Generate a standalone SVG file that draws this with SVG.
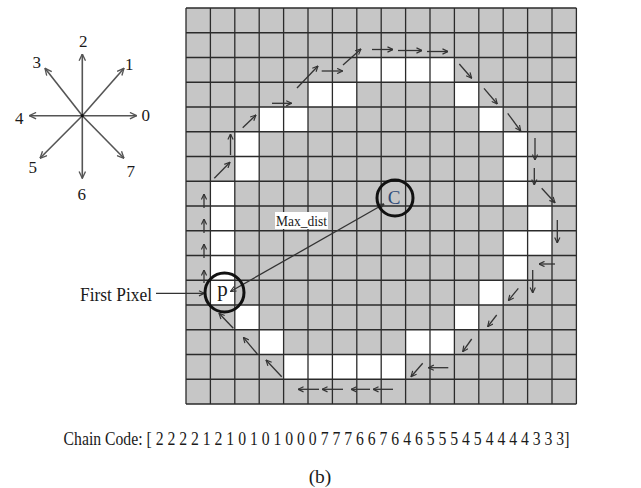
<svg xmlns="http://www.w3.org/2000/svg" width="641" height="488" viewBox="0 0 641 488">
<style>
.t{font-family:"Liberation Serif","Times New Roman",serif;fill:#1a1a1a}
.gl{stroke:#2b2b2b;stroke-width:1.3;fill:none}
.ar{stroke:#333;stroke-width:1.3;fill:none;marker-end:url(#ah)}
.cp{stroke:#555;stroke-width:1.6;fill:none;marker-end:url(#ch)}
.w{fill:#fff}
.ring{fill:none;stroke:#111;stroke-width:3}
</style>
<defs>
<marker id="ah" viewBox="0 0 10 10" refX="9.5" refY="5" markerWidth="6.5" markerHeight="6.5" markerUnits="userSpaceOnUse" orient="auto"><path d="M1,1 L9.5,5 L1,9" fill="none" stroke="#333" stroke-width="1.8"/></marker>
<marker id="as" viewBox="0 0 10 10" refX="0.5" refY="5" markerWidth="6.5" markerHeight="6.5" markerUnits="userSpaceOnUse" orient="auto"><path d="M9,1 L0.5,5 L9,9" fill="none" stroke="#333" stroke-width="1.8"/></marker>
<marker id="ch" viewBox="0 0 10 10" refX="9.5" refY="5" markerWidth="8" markerHeight="8" markerUnits="userSpaceOnUse" orient="auto"><path d="M1,1 L9.5,5 L1,9" fill="none" stroke="#555" stroke-width="1.7"/></marker>
</defs>
<rect width="641" height="488" fill="#fff"/>

<g id="compass">
<line class="cp" x1="82.3" y1="115.7" x2="82.3" y2="54"/>
<line class="cp" x1="82.3" y1="115.7" x2="82.3" y2="178.3"/>
<line class="cp" x1="82.3" y1="115.7" x2="136.7" y2="115.7"/>
<line class="cp" x1="82.3" y1="115.7" x2="29.3" y2="115.7"/>
<line class="cp" x1="82.3" y1="115.7" x2="124" y2="68.3"/>
<line class="cp" x1="82.3" y1="115.7" x2="45" y2="68.3"/>
<line class="cp" x1="82.3" y1="115.7" x2="40" y2="158.3"/>
<line class="cp" x1="82.3" y1="115.7" x2="124" y2="158.3"/>
<circle cx="82.3" cy="115.7" r="1.6" fill="#111"/>
<g class="t" font-size="17" text-anchor="middle">
<text x="83.3" y="46.7">2</text>
<text x="129.3" y="70">1</text>
<text x="36.7" y="68">3</text>
<text x="145.7" y="120.7">0</text>
<text x="19.3" y="124">4</text>
<text x="32.7" y="173">5</text>
<text x="130.7" y="176.5">7</text>
<text x="81.7" y="200">6</text>
</g>
</g>

<g id="grid">
<rect x="186" y="8" width="390.4" height="396" fill="#c6c6c6"/>
<g class="w">
<rect x="356.8" y="57.5" width="97.6" height="24.75"/>
<rect x="308" y="82.25" width="48.8" height="24.75"/>
<rect x="454.4" y="82.25" width="24.4" height="24.75"/>
<rect x="259.2" y="107" width="48.8" height="24.75"/>
<rect x="478.8" y="107" width="24.4" height="24.75"/>
<rect x="234.8" y="131.75" width="24.4" height="49.5"/>
<rect x="503.2" y="131.75" width="24.4" height="74.25"/>
<rect x="210.4" y="181.25" width="24.4" height="123.75"/>
<rect x="527.6" y="206" width="24.4" height="49.5"/>
<rect x="503.2" y="230.75" width="24.4" height="49.5"/>
<rect x="478.8" y="280.25" width="24.4" height="24.75"/>
<rect x="234.8" y="305" width="24.4" height="24.75"/>
<rect x="454.4" y="305" width="24.4" height="24.75"/>
<rect x="259.2" y="329.75" width="24.4" height="24.75"/>
<rect x="405.6" y="329.75" width="48.8" height="24.75"/>
<rect x="283.6" y="354.5" width="122" height="24.75"/>
</g>
<path class="gl" d="M186,8V404M210.4,8V404M234.8,8V404M259.2,8V404M283.6,8V404M308,8V404M332.4,8V404M356.8,8V404M381.2,8V404M405.6,8V404M430,8V404M454.4,8V404M478.8,8V404M503.2,8V404M527.6,8V404M552,8V404M576.4,8V404
M186,8H576.4M186,32.75H576.4M186,57.5H576.4M186,82.25H576.4M186,107H576.4M186,131.75H576.4M186,156.5H576.4M186,181.25H576.4M186,206H576.4M186,230.75H576.4M186,255.5H576.4M186,280.25H576.4M186,305H576.4M186,329.75H576.4M186,354.5H576.4M186,379.25H576.4M186,404H576.4"/>
</g>

<g id="maxdist-label">
<rect x="275" y="212" width="53" height="17" fill="#fff"/>
<text class="t" x="301.5" y="225.5" font-size="14" text-anchor="middle" textLength="51" lengthAdjust="spacingAndGlyphs">Max_dist</text>
</g>

<g id="connectors">
<line class="ar" x1="204" y1="283" x2="204" y2="270"/>
<line class="ar" x1="204" y1="258" x2="204" y2="244"/>
<line class="ar" x1="204" y1="233" x2="204" y2="219"/>
<line class="ar" x1="204" y1="208" x2="204" y2="194"/>
<line class="ar" x1="214.3" y1="178.3" x2="230" y2="162.3"/>
<line class="ar" x1="230.5" y1="155" x2="230.5" y2="134"/>
<line class="ar" x1="242.7" y1="127.7" x2="256" y2="115"/>
<line class="ar" x1="272" y1="103.3" x2="291.7" y2="103.3"/>
<line class="ar" x1="297" y1="88" x2="318" y2="66"/>
<line class="ar" x1="321.7" y1="71" x2="342.7" y2="71"/>
<line class="ar" x1="343" y1="65" x2="361" y2="49"/>
<line class="ar" x1="372" y1="49.5" x2="393" y2="49.5"/>
<line class="ar" x1="398" y1="50.5" x2="422" y2="50.5"/>
<line class="ar" x1="427" y1="51.5" x2="448" y2="51.5"/>
<line class="ar" x1="459.3" y1="64" x2="471.7" y2="78.3"/>
<line class="ar" x1="484" y1="88.3" x2="497.3" y2="104"/>
<line class="ar" x1="507.7" y1="113.3" x2="520.7" y2="131"/>
<line class="ar" x1="535" y1="138" x2="535" y2="160"/>
<line class="ar" x1="534.3" y1="168" x2="534.3" y2="185"/>
<line class="ar" x1="541.7" y1="188.3" x2="555" y2="202.7"/>
<line class="ar" x1="557.3" y1="220" x2="557.3" y2="243"/>
<line class="ar" x1="555" y1="264" x2="539" y2="264"/>
<line class="ar" x1="532.7" y1="270" x2="532.7" y2="293"/>
<line class="ar" x1="518.3" y1="288.3" x2="508.3" y2="300.7"/>
<line class="ar" x1="496.7" y1="315" x2="487.7" y2="326.7"/>
<line class="ar" x1="471.7" y1="339" x2="462.7" y2="351.7"/>
<line class="ar" x1="448.3" y1="367.7" x2="428.3" y2="367.7"/>
<line class="ar" x1="422.7" y1="363.3" x2="411" y2="376.7"/>
<line class="ar" x1="393" y1="389.3" x2="373" y2="389.3"/>
<line class="ar" x1="370" y1="389.3" x2="351" y2="389.3"/>
<line class="ar" x1="343" y1="389.3" x2="322" y2="389.3"/>
<line class="ar" x1="319" y1="389.3" x2="298" y2="389.3"/>
<line class="ar" x1="281.7" y1="376.7" x2="266" y2="360"/>
<line class="ar" x1="257.3" y1="354" x2="243.3" y2="337.3"/>
<line class="ar" x1="233.3" y1="328.3" x2="219" y2="313.3"/>
<line class="ar" x1="156" y1="293.3" x2="204.5" y2="293.3"/>
<line class="ar" x1="384" y1="204" x2="230.5" y2="291.5" marker-start="url(#as)"/>
</g>

<g id="node-C">
<circle class="ring" cx="395" cy="198" r="18"/>
<text x="394" y="203.5" font-size="19" text-anchor="middle" font-family="Liberation Serif, serif" fill="#2e4a78">C</text>
</g>

<g id="node-p">
<circle class="ring" cx="224.5" cy="292.5" r="19.5"/>
<text class="t" x="222.5" y="296" font-size="21" text-anchor="middle">p</text>
</g>

<g id="first-pixel">
<text class="t" x="80" y="301" font-size="19" textLength="72" lengthAdjust="spacingAndGlyphs">First Pixel</text>
</g>

<g id="captions">
<text class="t" transform="translate(316.5,445) scale(0.85,1)" x="0" y="0" font-size="18.5" text-anchor="middle">Chain Code: [ 2 2 2 2 1 2 1 0 1 0 1 0 0 0 7 7 7 6 6 7 6 4 6 5 5 5 4 5 4 4 4 4 3 3 3]</text>
<text class="t" x="320" y="483" font-size="19.5" text-anchor="middle">(b)</text>
</g>
</svg>
